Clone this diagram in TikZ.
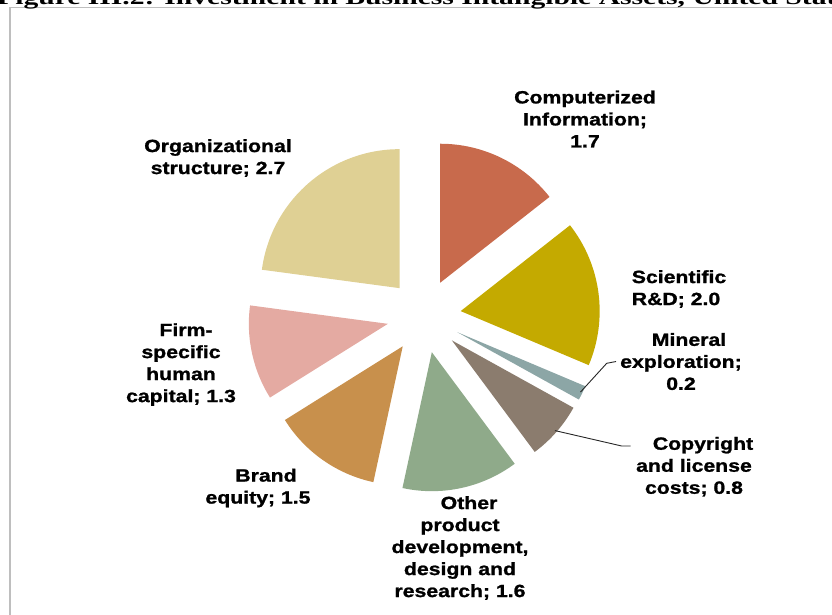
\documentclass[tikz,border=0pt]{standalone}
\usepackage{fontspec}
\usepackage{tikz}
\usetikzlibrary{calc}
\newfontfamily\lblfont[FakeStretch=1.2,FakeBold=1.2]{Liberation Sans}
\newfontfamily\ttlfont[FakeStretch=1.41]{Liberation Serif}
\definecolor{compred}{RGB}{200,106,76}
\definecolor{rdgold}{RGB}{196,170,0}
\definecolor{mingray}{RGB}{140,166,166}
\definecolor{copybrown}{RGB}{139,124,110}
\definecolor{othergreen}{RGB}{143,170,138}
\definecolor{brandtan}{RGB}{200,144,76}
\definecolor{firmpink}{RGB}{228,170,162}
\definecolor{orgsand}{RGB}{223,208,148}
\definecolor{framegray}{RGB}{190,190,190}

\begin{document}
\begin{tikzpicture}[x=1pt,y=1pt,
    lbl/.style={font=\lblfont\bfseries\fontsize{17.7}{22}\selectfont,align=center,inner sep=0pt},
    leader/.style={black!85,line width=0.9pt}]
    \useasboundingbox (0,0) rectangle (832,-614);
    \clip (0,0) rectangle (832,-614);

    % Frame and title
    \draw[framegray,line width=1.5pt] (10,-7.5) rectangle (850,-640);
    \node[anchor=base west,inner sep=0pt,font=\ttlfont\bfseries\fontsize{21}{25}\selectfont] (title) at (-3,-4)
        {Figure III.2: Investment in Business Intangible Assets, United States};

    % Pie slices (exploded)
    \coordinate (ctr) at (424,-316);
    \gdef\angacc{90}
    \foreach \v/\col/\nm in {1.7/compred/comp,2.0/rdgold/rd,0.2/mingray/min,0.8/copybrown/copy,
        1.6/othergreen/other,1.5/brandtan/brand,1.3/firmpink/firm,2.7/orgsand/org} {
        \pgfmathsetmacro{\angA}{\angacc}
        \pgfmathsetmacro{\angB}{\angA-\v*360/11.8}
        \pgfmathsetmacro{\angM}{(\angA+\angB)/2}
        \fill[\col] ($(ctr)+(\angM:37)$) -- ++(\angA:139)
            arc[start angle=\angA,end angle=\angB,radius=139] -- cycle;
        \coordinate (\nm-edge) at ($(ctr)+(\angM:174)$);
        \xdef\angacc{\angB}
    }

    % Labels
    \node[lbl] (comp) at (585,-119) {Computerized\\Information;\\1.7};
    \node[lbl] (rd) at (676,-289) {\hspace*{6pt}Scientific\\R\&D; 2.0};
    \node[lbl] (min) at (681,-361.5) {\hspace*{16pt}Mineral\\exploration;\\0.2};
    \node[lbl] (copy) at (694,-466.7) {\hspace*{18pt}Copyright\\and license\\costs; 0.8};
    \node[lbl] (other) at (460,-548) {\hspace*{18pt}Other\\product\\development,\\design and\\research; 1.6};
    \node[lbl] (brand) at (258,-488) {\hspace*{16pt}Brand\\equity; 1.5};
    \node[lbl] (firm) at (181,-364.5) {\hspace*{10pt}Firm-\\specific\\human\\capital; 1.3};
    \node[lbl] (org) at (218,-158) {Organizational\\structure; 2.7};

    % Leader lines
    \coordinate (minbend) at (606.7,-363.3);
    \coordinate (copybend) at (621.7,-446);
    \coordinate (copyend) at ($(copybend -| copy.west)+(-4,0)$);
    \draw[leader] (min-edge) -- (minbend) -- ([xshift=-4pt]min.west);
    \draw[leader] (copy-edge) -- (copybend) -- (copyend);
\end{tikzpicture}
\end{document}
